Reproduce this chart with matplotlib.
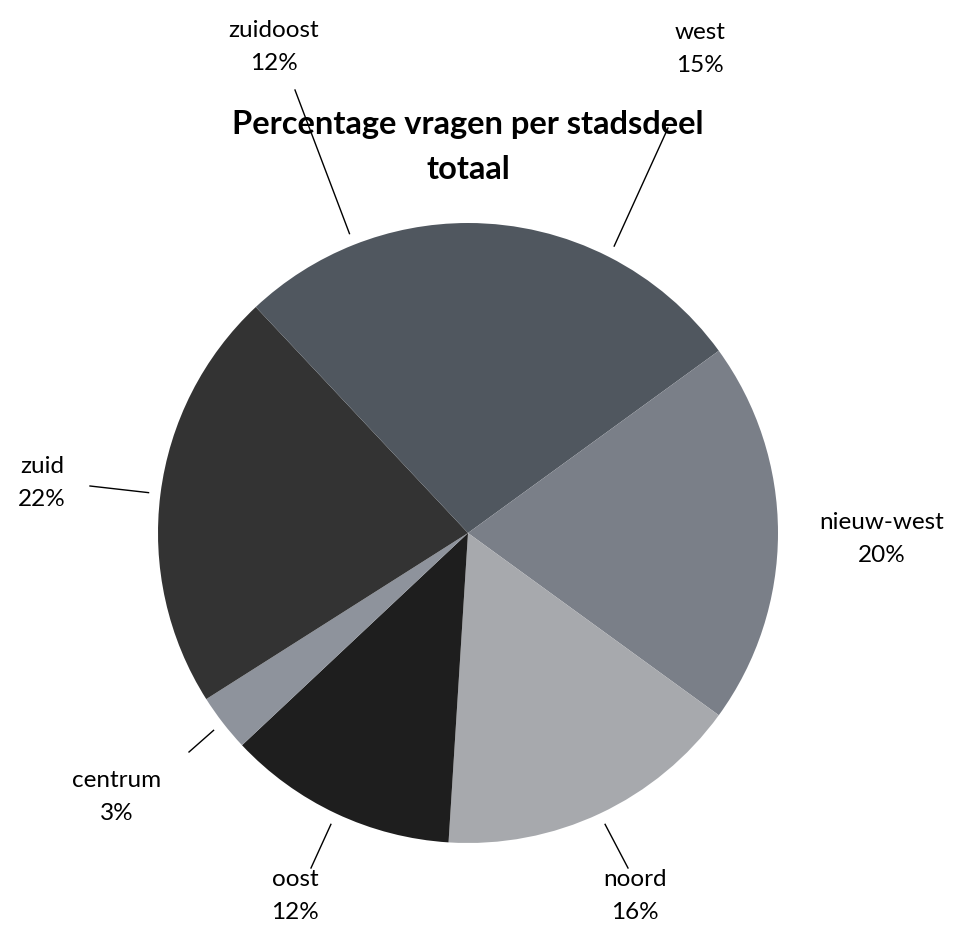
import numpy as np
import matplotlib.pyplot as plt

# data, clockwise from the top
stadsdelen = ['west', 'nieuw-west', 'noord', 'oost', 'centrum', 'zuid', 'zuidoost']
percentages = [15, 20, 16, 12, 3, 22, 12]
kleuren = ['#50575f', '#7a7f88', '#a7a9ad', '#1e1e1e', '#8e939c', '#333333', '#50575f']

# label positions (pixels, y up) and whether a leader line is drawn
label_pos = [(700, 903), (882, 413), (635, 56), (295, 56), (117, 155), (42, 469), (274, 905)]
met_lijn = [True, False, True, True, True, True, True]
lijn_eind = [(668, 824), None, (628, 84), (311, 84), (189, 200), (90, 466), (295, 862)]

fig = plt.figure(figsize=(9.73, 9.52), dpi=100)
ax = fig.add_axes([0, 0, 1, 1])

cx, cy, r = 468, 419, 310
wedges, _ = ax.pie(percentages, colors=kleuren, startangle=90, counterclock=False,
                   center=(cx, cy), radius=r, wedgeprops=dict(linewidth=0))

ax.set_xlim(0, 973)
ax.set_ylim(0, 952)
ax.set_aspect('equal')
ax.axis('off')

fnt = 'Lato'
for w, naam, pct, pos, lijn, eind in zip(wedges, stadsdelen, percentages, label_pos, met_lijn, lijn_eind):
    hoek = np.deg2rad((w.theta1 + w.theta2) / 2)
    if lijn:
        x0 = cx + (r + 12) * np.cos(hoek)
        y0 = cy + (r + 12) * np.sin(hoek)
        ax.plot([x0, eind[0]], [y0, eind[1]], color='black', linewidth=1)
    ax.text(pos[0], pos[1], naam + '\n' + str(pct) + '%', ha='center', va='center',
            fontsize=17.5, family=fnt, linespacing=1.65)

ax.text(468, 805, 'Percentage vragen per stadsdeel\ntotaal', ha='center', va='center',
        fontsize=23.5, fontweight='bold', family=fnt, linespacing=1.65)

fig.savefig('out.png', dpi=100)
